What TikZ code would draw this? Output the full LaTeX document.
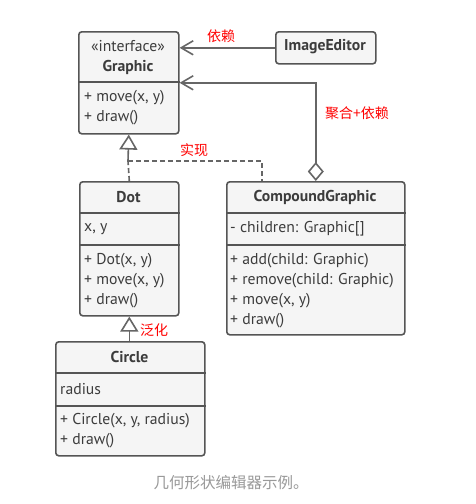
\documentclass[tikz,border=0pt]{standalone}
\usepackage{fontspec}
\setmainfont{PT Sans}
\newfontfamily\cjk{Noto Sans CJK SC}
\usetikzlibrary{arrows.meta}
\definecolor{boxfill}{HTML}{F5F5F5}
\definecolor{boxline}{HTML}{555555}
\definecolor{txt}{HTML}{3C3C3C}
\definecolor{conn}{HTML}{666666}
\definecolor{lbl}{HTML}{FF0000}
\definecolor{cap}{HTML}{999999}
\tikzset{
  umlbox/.style={draw=boxline, fill=boxfill, rounded corners=3pt, line width=1.6pt, anchor=north west, inner sep=0pt},
  divider/.style={draw=boxline, line width=1.6pt},
  member/.style={anchor=west, inner sep=0pt, text=txt, font=\fontsize{15.7}{18}\selectfont},
  hdr/.style={inner sep=0pt, text=txt, font=\fontsize{15.7}{18}\selectfont\bfseries},
  stereo/.style={inner sep=0pt, text=txt, font=\fontsize{15.7}{18}\selectfont},
  redlbl/.style={inner sep=0pt, text=lbl, font=\cjk\fontsize{14}{16}\selectfont},
  conline/.style={draw=conn, line width=1.6pt},
  dep/.style={conline, -{Straight Barb[length=12pt,width=14pt,line width=1.6pt]}},
  real/.style={conline, dash pattern=on 5pt off 3pt},
  realtip/.style={conline, -{Triangle[open,length=15pt,width=18pt,line width=1.6pt,fill=white]}},
  aggtip/.style={conline, {Diamond[open,length=19pt,width=16pt,line width=1.6pt,fill=white]}-{Straight Barb[length=12pt,width=14pt,line width=1.6pt]}},
}
\begin{document}
\begin{tikzpicture}[x=1pt,y=-1pt]
\useasboundingbox[fill=white] (0,0) rectangle (475,504);

% Graphic
\node[umlbox, minimum width=100pt, minimum height=102pt] (graphic) at (78,31) {};
\draw[divider] (graphic.west |- 0,82) -- (graphic.east |- 0,82);
\node[stereo] (gst) at (128,46) {«interface»};
\node[hdr] (gname) at (128,67) {Graphic};
\node[member] (gm1) at (84,98) {+ move(x, y)};
\node[member] (gm2) at (84,118) {+ draw()};

% ImageEditor
\node[umlbox, minimum width=100pt, minimum height=32pt] (ie) at (275,31) {};
\node[hdr] (iename) at (325,47) {ImageEditor};

% Dot
\node[umlbox, minimum width=99pt, minimum height=134pt] (dot) at (79,181) {};
\draw[divider] (dot.west |- 0,213) -- (dot.east |- 0,213);
\draw[divider] (dot.west |- 0,245) -- (dot.east |- 0,245);
\node[hdr] (dname) at (128.5,197) {Dot};
\node[member] (df1) at (84,229) {x, y};
\node[member] (dm1) at (84,261) {+ Dot(x, y)};
\node[member] (dm2) at (84,281) {+ move(x, y)};
\node[member] (dm3) at (84,301) {+ draw()};

% CompoundGraphic
\node[umlbox, minimum width=178pt, minimum height=153pt] (cg) at (226,181) {};
\draw[divider] (cg.west |- 0,213) -- (cg.east |- 0,213);
\draw[divider] (cg.west |- 0,245) -- (cg.east |- 0,245);
\node[hdr] (cgname) at (315,197) {CompoundGraphic};
\node[member] (cf1) at (230,229) {- children: Graphic[]};
\node[member] (cm1) at (230,261) {+ add(child: Graphic)};
\node[member] (cm2) at (230,281) {+ remove(child: Graphic)};
\node[member] (cm3) at (230,301) {+ move(x, y)};
\node[member] (cm4) at (230,321) {+ draw()};

% Circle
\node[umlbox, minimum width=149pt, minimum height=114pt] (circ) at (55,341) {};
\draw[divider] (circ.west |- 0,373) -- (circ.east |- 0,373);
\draw[divider] (circ.west |- 0,406) -- (circ.east |- 0,406);
\node[hdr] (ciname) at (129.5,357) {Circle};
\node[member] (cif1) at (60,389) {radius};
\node[member] (cim1) at (60,421) {+ Circle(x, y, radius)};
\node[member] (cim2) at (60,441) {+ draw()};

% connectors
\draw[dep] (ie.west) -- (ie.west -| graphic.east);
\draw[aggtip] (cg.north) |- (graphic.east);
\coordinate (jn) at (128,161);
\coordinate (cgtop) at (262,181);
\draw[real] (dot.north) -- (jn);
\draw[real] (jn) -| (cgtop);
\draw[realtip] (jn) -- (graphic.south);
\draw[realtip] (dot.south |- circ.north) -- (dot.south);

% labels
\node[redlbl] (l1) at (221,36) {依赖};
\node[redlbl, anchor=west] (l2) at (325,113) {聚合+依赖};
\node[redlbl] (l3) at (194,150) {实现};
\node[redlbl, anchor=west] (l4) at (140,330) {泛化};

\node[inner sep=0pt, text=cap, font=\cjk\fontsize{15.5}{18}\selectfont] (caption) at (231,483) {几何形状编辑器示例。};
\end{tikzpicture}
\end{document}
